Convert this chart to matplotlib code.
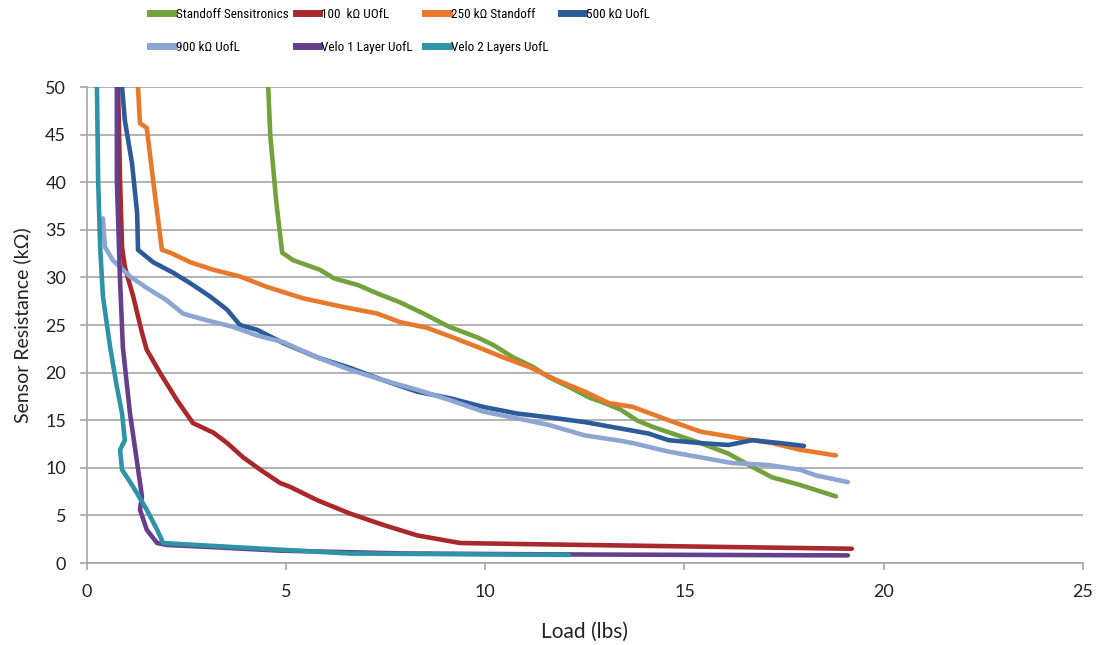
import matplotlib.pyplot as plt
from matplotlib.lines import Line2D
from matplotlib import font_manager

# Load (lbs) vs sensor resistance (kOhm)
standoff_x = [4.55, 4.6, 4.75, 4.9, 5.18, 5.85, 6.2, 6.8, 7.3, 7.85, 8.45, 9.1, 9.8, 10.2, 10.7,
              11.2, 11.6, 12.1, 12.6, 13.0, 13.4, 13.8, 14.2, 14.7, 15.4, 16.1, 16.7, 17.2, 17.9, 18.8]
standoff_y = [50, 45, 38, 32.6, 31.8, 30.8, 29.9, 29.2, 28.3, 27.4, 26.2, 24.8, 23.7, 22.9, 21.6,
              20.6, 19.5, 18.5, 17.4, 16.8, 16.1, 15.0, 14.3, 13.6, 12.6, 11.5, 10.1, 9.0, 8.2, 7.0]

r100_x = [0.78, 0.83, 0.88, 0.95, 1.16, 1.38, 1.5, 1.83, 2.26, 2.66, 3.17, 3.52, 3.92, 4.35, 4.85,
          5.1, 5.78, 6.6, 7.44, 8.29, 9.37, 10.8, 14.1, 19.2]
r100_y = [50, 40.2, 33.2, 31.1, 28.0, 24.2, 22.4, 20.0, 17.1, 14.7, 13.7, 12.6, 11.1, 9.8, 8.4,
          8.0, 6.6, 5.2, 4.0, 2.9, 2.1, 2.0, 1.8, 1.5]

r250_x = [1.28, 1.33, 1.5, 1.66, 1.88, 2.09, 2.59, 3.17, 3.84, 4.52, 5.43, 6.43, 7.29, 7.86, 8.54,
          9.12, 9.8, 10.45, 11.1, 11.8, 12.5, 13.1, 13.7, 14.6, 15.4, 16.4, 17.2, 17.9, 18.8]
r250_y = [50, 46.2, 45.7, 40.2, 32.9, 32.6, 31.6, 30.8, 30.1, 29.0, 27.8, 26.9, 26.2, 25.3, 24.7,
          23.8, 22.7, 21.6, 20.6, 19.2, 18.0, 16.8, 16.4, 15.0, 13.8, 13.1, 12.6, 11.9, 11.3]

r500_x = [0.88, 0.95, 1.13, 1.26, 1.28, 1.66, 2.16, 2.59, 3.09, 3.52, 3.84, 4.27, 4.93, 5.78, 6.6,
          7.44, 8.29, 9.12, 9.95, 10.8, 11.6, 12.5, 13.3, 14.1, 14.6, 15.4, 16.1, 16.7, 17.4, 18.0]
r500_y = [50, 46.5, 42.0, 36.7, 32.9, 31.6, 30.5, 29.4, 28.0, 26.6, 25.0, 24.5, 23.1, 21.6, 20.5,
          19.2, 18.0, 17.3, 16.4, 15.7, 15.3, 14.8, 14.2, 13.6, 12.9, 12.6, 12.4, 12.9, 12.6, 12.3]

r900_x = [0.4, 0.45, 0.65, 1.08, 1.5, 2.0, 2.41, 3.0, 3.67, 4.27, 4.93, 5.78, 6.6, 7.44, 8.29,
          9.12, 9.95, 10.8, 11.6, 12.5, 13.3, 13.7, 14.6, 15.4, 16.2, 17.1, 17.9, 18.3, 19.1]
r900_y = [36.2, 33.2, 31.8, 30.1, 28.9, 27.6, 26.2, 25.5, 24.8, 23.9, 23.2, 21.6, 20.3, 19.2, 18.2,
          17.1, 15.9, 15.2, 14.5, 13.4, 12.9, 12.6, 11.7, 11.1, 10.5, 10.3, 9.8, 9.2, 8.5]

velo1_x = [0.75, 0.75, 0.83, 0.9, 1.08, 1.26, 1.38, 1.33, 1.5, 1.76, 2.0, 3.0, 4.85, 8.0, 12.1, 19.1]
velo1_y = [50, 40.2, 29.7, 22.7, 15.7, 10.5, 7.0, 5.6, 3.5, 2.1, 1.9, 1.7, 1.3, 1.0, 0.9, 0.8]

velo2_x = [0.25, 0.28, 0.33, 0.4, 0.58, 0.75, 0.88, 0.95, 0.83, 0.88, 1.16, 1.5, 1.76, 1.91, 2.3,
           4.85, 6.6, 12.1]
velo2_y = [50, 40.2, 33.2, 28.0, 22.7, 18.5, 15.7, 12.9, 11.9, 9.8, 8.0, 5.6, 3.5, 2.1, 2.0,
           1.4, 1.0, 0.85]

labels = ['Standoff Sensitronics', '100  k\u03a9 UOfL', '250 k\u03a9 Standoff', '500 k\u03a9 UofL',
          '900 k\u03a9 UofL', 'Velo 1 Layer UofL', 'Velo 2 Layers UofL']
colors = ['#73A13C', '#A8282C', '#E8792C', '#2D5B99', '#8DA5D2', '#663F8C', '#2E93A6']

series = [(standoff_x, standoff_y), (r100_x, r100_y), (r250_x, r250_y), (r500_x, r500_y),
          (r900_x, r900_y), (velo1_x, velo1_y), (velo2_x, velo2_y)]

plt.rcParams['font.family'] = ['Lato', 'DejaVu Sans']

# pick a narrow font for the legend if one is installed
installed = {f.name for f in font_manager.fontManager.ttflist}
narrow = 'Lato'
for name in ['Liberation Sans Narrow', 'DejaVu Sans Condensed', 'Roboto Condensed',
             'Open Sans Condensed', 'Noto Sans Condensed']:
    if name in installed:
        narrow = name
        break

fig = plt.figure(figsize=(11.04, 6.45), dpi=100)
ax = fig.add_axes([0.0788, 0.1271, 0.902, 0.738])

for (xs, ys), c in zip(series, colors):
    ax.plot(xs, ys, color=c, lw=3.3, solid_capstyle='round', solid_joinstyle='round')

ax.set_xlim(0, 25)
ax.set_ylim(0, 50)
ax.set_xticks(range(0, 26, 5))
ax.set_yticks(range(0, 51, 5))
ax.grid(axis='y', color='#A6A6A6', lw=1.2)
ax.set_axisbelow(True)
for s in ['top', 'right']:
    ax.spines[s].set_visible(False)
for s in ['left', 'bottom']:
    ax.spines[s].set_color('#A6A6A6')
    ax.spines[s].set_linewidth(1.2)
ax.tick_params(colors='#A6A6A6', labelcolor='#222222', labelsize=13, length=5, width=1.2)
ax.tick_params(axis='x', pad=10)
ax.tick_params(axis='y', pad=10)
ax.set_xlabel('Load (lbs)', fontsize=15, color='#222222', labelpad=16)
ax.set_ylabel('Sensor Resistance (k\u03a9)', fontsize=14, color='#222222', labelpad=10)

# legend laid out as four one-column legends: (top entry, bottom entry), left edge in figure fraction
legend_cols = [([0, 4], 0.125), ([1, 5], 0.257), ([2, 6], 0.374), ([3], 0.497)]
size = 9.5 if narrow != 'Lato' else 9.0
for idx, x0 in legend_cols:
    leg = fig.legend([Line2D([], [], color=colors[i], lw=5) for i in idx], [labels[i] for i in idx],
                     loc='upper left', bbox_to_anchor=(x0, 1.006), frameon=False,
                     handlelength=1.8, handletextpad=0.15, labelspacing=1.5,
                     prop={'family': [narrow, 'DejaVu Sans'], 'size': size,
                           'weight': 'bold' if narrow == 'Lato' else 'normal'})

fig.savefig('out.png', dpi=100)
